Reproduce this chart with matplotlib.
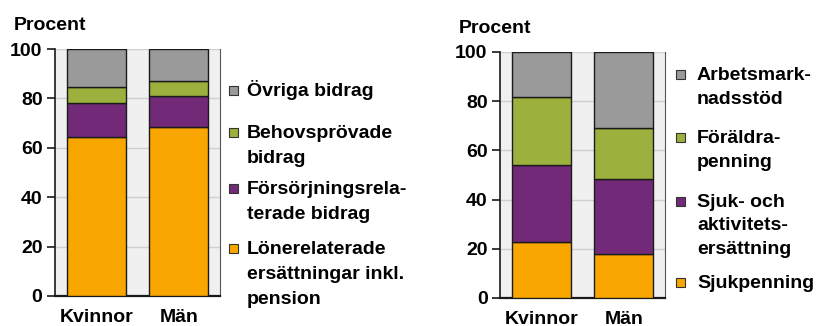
import matplotlib
matplotlib.use("Agg")
import matplotlib.pyplot as plt
from matplotlib.patches import Rectangle

plt.rcParams["font.family"] = ["Liberation Sans", "DejaVu Sans"]
plt.rcParams["font.weight"] = "bold"

groups = ["Kvinnor", "Män"]

# Left panel: composition of benefits (per cent)
left_labels = ["Lönerelaterade\nersättningar inkl.\npension",
               "Försörjningsrela-\nterade bidrag",
               "Behovsprövade\nbidrag",
               "Övriga bidrag"]
left_loner = [64.5, 68.6]
left_forsorj = [13.7, 12.4]
left_behov = [6.4, 6.0]
left_ovriga = [15.4, 13.0]

# Right panel: composition of benefits (per cent)
right_labels = ["Sjukpenning",
                "Sjuk- och\naktivitets-\nersättning",
                "Föräldra-\npenning",
                "Arbetsmark-\nnadsstöd"]
right_sjukp = [22.8, 17.9]
right_sjuk_akt = [31.3, 30.5]
right_foraldra = [27.7, 20.8]
right_arbets = [18.2, 30.8]

yticks = [0, 20, 40, 60, 80, 100]
colors = ["#f9a600", "#722a78", "#9cb03e", "#9a9a9a"]

W, H = 816, 326
fig = plt.figure(figsize=(W / 100, H / 100), dpi=100)
FS = 14


def panel(rect, series, labels, sq_x, text_x, baselines, line_h):
    ax = fig.add_axes(rect)
    ax.set_facecolor("#f0f0f0")
    x = list(range(len(groups)))
    bottom = [0.0] * len(groups)
    for vals, col in zip(series, colors):
        ax.bar(x, vals, bottom=bottom, width=0.72, color=col,
               edgecolor="#1a1a1a", linewidth=1.0, zorder=3)
        bottom = [b + v for b, v in zip(bottom, vals)]
    ax.set_xlim(-0.5, 1.5)
    ax.set_ylim(0, 100)
    ax.set_yticks(yticks)
    ax.set_yticklabels([str(t) for t in yticks], fontsize=FS, fontweight="bold")
    ax.set_xticks(x)
    ax.set_xticklabels(groups, fontsize=FS, fontweight="bold")
    ax.tick_params(axis="x", length=0, pad=9)
    ax.tick_params(axis="y", length=6, width=1.2, pad=3, color="#1a1a1a")
    ax.yaxis.grid(True, color="#cfcfcf", linewidth=1.0, zorder=0)
    ax.spines["top"].set_visible(False)
    ax.spines["left"].set_color("#1a1a1a")
    ax.spines["left"].set_linewidth(1.2)
    ax.spines["bottom"].set_color("#1a1a1a")
    ax.spines["bottom"].set_linewidth(1.6)
    ax.spines["right"].set_color("#555555")
    ax.spines["right"].set_linewidth(0.8)
    ax.text(-0.25, 1.06, "Procent", transform=ax.transAxes, fontsize=FS,
            fontweight="bold", ha="left", va="bottom")
    # legend, listed top to bottom; each line placed on its own baseline
    for lab, col, base in zip(labels[::-1], colors[::-1], baselines):
        fig.patches.append(Rectangle((sq_x / W, 1 - (base - 1) / H),
                                     9 / W, 9 / H, transform=fig.transFigure,
                                     facecolor=col, edgecolor="#333333",
                                     linewidth=0.8))
        for i, line in enumerate(lab.split("\n")):
            fig.text(text_x / W, 1 - (base + i * line_h) / H, line,
                     fontsize=FS, fontweight="bold", ha="left",
                     va="baseline")
    return ax


panel([55 / W, (H - 296) / H, 165 / W, 247 / H],
      [left_loner, left_forsorj, left_behov, left_ovriga],
      left_labels, 229, 247, [96, 138, 194, 254], 25)
panel([500 / W, (H - 298) / H, 165 / W, 246 / H],
      [right_sjukp, right_sjuk_akt, right_foraldra, right_arbets],
      right_labels, 676, 697, [80, 143, 207, 288], 23.5)

fig.savefig("out.png", dpi=100)
